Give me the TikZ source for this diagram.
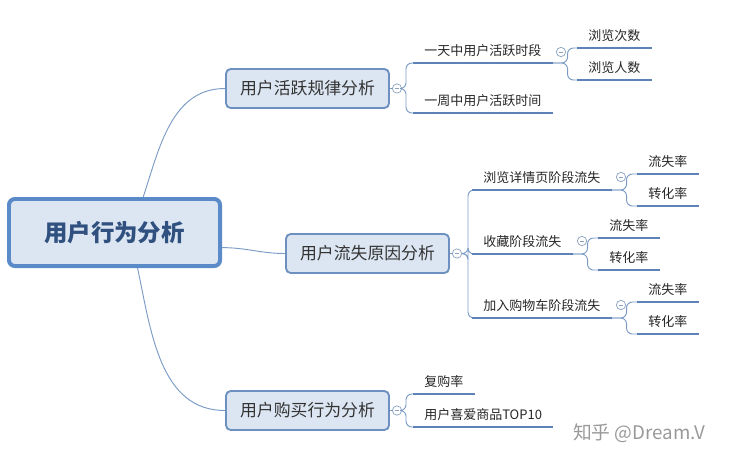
\documentclass[tikz,border=0pt]{standalone}
\usepackage{fontspec}
\setmainfont{Noto Sans CJK SC}
\usetikzlibrary{calc}

\definecolor{boxfill}{HTML}{DCE6F2}
\definecolor{boxline}{HTML}{6D90C0}
\definecolor{rootline}{HTML}{5B8AC8}
\definecolor{roottext}{HTML}{30507F}
\definecolor{linec}{HTML}{7A9BC5}
\definecolor{ulinec}{HTML}{5C82B8}
\definecolor{foldc}{HTML}{8AA2C0}

\tikzset{
  rootbox/.style={draw=rootline, line width=3.4pt, fill=boxfill, rounded corners=5pt,
    minimum width=6.33cm, minimum height=2.01cm, text=roottext,
    font=\fontsize{20}{24}\selectfont\bfseries},
  mainbox/.style={draw=boxline, line width=1.6pt, fill=boxfill, rounded corners=4pt,
    minimum width=4.89cm, minimum height=1.17cm, text=black!80,
    font=\fontsize{14.4}{17}\selectfont},
  topic/.style={anchor=south west, inner xsep=9.4pt, inner ysep=4pt,
    text height=9pt, text depth=2pt, text=black!85,
    font=\fontsize{11.1}{13}\selectfont},
  fold/.style={circle, draw=foldc, fill=white, line width=0.6pt, inner sep=0pt,
    minimum size=0.28cm,
    path picture={\draw[foldc, line width=0.6pt]
      ([xshift=-2pt]path picture bounding box.center) --
      ([xshift=2pt]path picture bounding box.center);}},
  conn/.style={draw=linec, line width=0.8pt},
  branch/.style={conn, rounded corners=5pt},
  uline/.style={draw=ulinec, line width=2.5pt},
  wmtext/.style={text=black!40, font=\fontsize{16}{19}\selectfont}
}

\begin{document}
\begin{tikzpicture}[x=0.03cm, y=-0.03cm]
    \useasboundingbox (0,0) rectangle (735,464);

    % central topic and main branches
    \node[rootbox] (root) at (114.5,232.5) {用户行为分析};
    \node[mainbox] (b1) at (307.5,88.5) {用户活跃规律分析};
    \node[mainbox] (b2) at (367.5,253.5) {用户流失原因分析};
    \node[mainbox] (b3) at (307.5,410.5) {用户购买行为分析};

    \draw[conn] (root.51) to[out=72,in=180] (b1.west);
    \draw[conn] (root.-8) to[out=0,in=180] (b2.west);
    \draw[conn] (root.-57) to[out=-78,in=180] (b3.west);

    % fold markers
    \node[fold] (c1) at (397,88.5) {};
    \node[fold] (c2) at (457,253.5) {};
    \node[fold] (c3) at (397,410.5) {};
    \draw[conn] (b1.east) -- (c1);
    \draw[conn] (b2.east) -- (c2);
    \draw[conn] (b3.east) -- (c3);

    % branch 1
    \node[topic] (n11) at (413,63) {一天中用户活跃时段};
    \node[topic] (n12) at (413,113) {一周中用户活跃时间};
    \node[topic] (n111) at (577,48) {浏览次数};
    \node[topic] (n112) at (577,80) {浏览人数};
    \node[fold] (c11) at (561,52) {};
    \draw[branch] (c1.east) -- ++(4,0) |- (n11.south west);
    \draw[branch] (c1.east) -- ++(4,0) |- (n12.south west);
    \draw[branch] (n11.south east) -- ++(15,0) |- (n111.south west);
    \draw[branch] (n11.south east) -- ++(15,0) |- (n112.south west);

    % branch 2
    \node[topic] (n21) at (472,190) {浏览详情页阶段流失};
    \node[topic] (n22) at (472,254) {收藏阶段流失};
    \node[topic] (n23) at (472,318) {加入购物车阶段流失};
    \node[topic] (n211) at (637,174) {流失率};
    \node[topic] (n212) at (637,206) {转化率};
    \node[topic] (n221) at (598,238) {流失率};
    \node[topic] (n222) at (598,270) {转化率};
    \node[topic] (n231) at (637,302) {流失率};
    \node[topic] (n232) at (637,334) {转化率};
    \node[fold] (c21) at (621,177) {};
    \node[fold] (c22) at (582,241) {};
    \node[fold] (c23) at (621,305) {};
    \draw[branch] (c2.east) -- ++(6,0) |- (n21.south west);
    \draw[branch] (c2.east) -- ++(6,0) |- (n22.south west);
    \draw[branch] (c2.east) -- ++(6,0) |- (n23.south west);
    \draw[branch] (n21.south east) -- ++(15,0) |- (n211.south west);
    \draw[branch] (n21.south east) -- ++(15,0) |- (n212.south west);
    \draw[branch] (n22.south east) -- ++(15,0) |- (n221.south west);
    \draw[branch] (n22.south east) -- ++(15,0) |- (n222.south west);
    \draw[branch] (n23.south east) -- ++(15,0) |- (n231.south west);
    \draw[branch] (n23.south east) -- ++(15,0) |- (n232.south west);

    % branch 3
    \node[topic] (n31) at (413,394) {复购率};
    \node[topic] (n32) at (413,427) {用户喜爱商品TOP10};
    \draw[branch] (c3.east) -- ++(4,0) |- (n31.south west);
    \draw[branch] (c3.east) -- ++(4,0) |- (n32.south west);

    % underlines of the topics
    \foreach \n in {n11,n12,n111,n112,n21,n22,n23,n211,n212,n221,n222,n231,n232,n31,n32}{
        \draw[uline] (\n.south west) -- (\n.south east);
    }

    \node[wmtext] (wm) at (639,433) {知乎 @Dream.V};
\end{tikzpicture}
\end{document}
